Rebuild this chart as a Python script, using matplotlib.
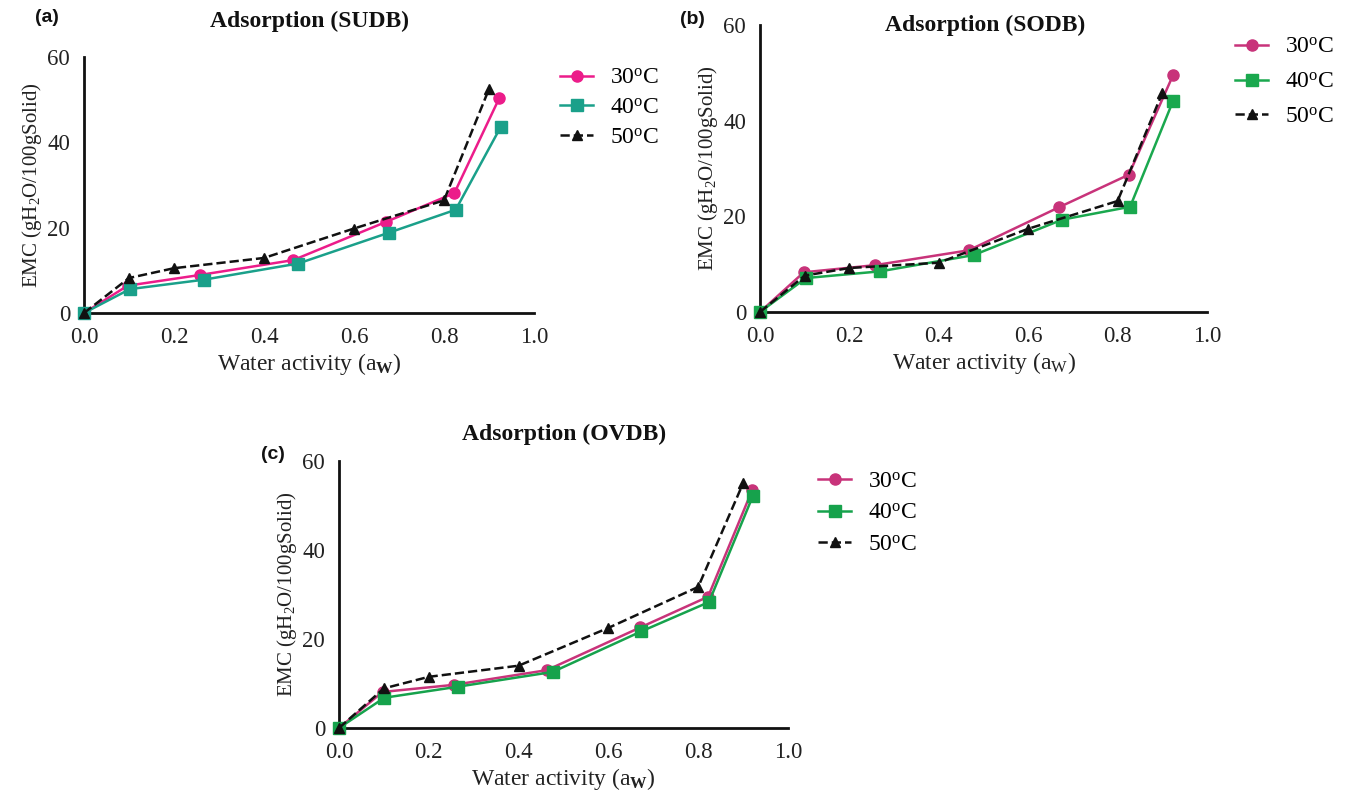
import matplotlib
matplotlib.use("Agg")
import matplotlib.pyplot as plt

plt.rcParams['font.family'] = ['Liberation Serif', 'DejaVu Serif']
plt.rcParams['mathtext.fontset'] = 'custom'
plt.rcParams['mathtext.rm'] = 'Liberation Serif'
plt.rcParams['mathtext.it'] = 'Liberation Serif:italic'
plt.rcParams['mathtext.bf'] = 'Liberation Serif:bold'

# Water activity (aw) and EMC values for each sample and temperature
temps = ['30', '40', '50']

sudb_aw_30 = [0.0, 0.097, 0.257, 0.465, 0.670, 0.823, 0.923]
sudb_emc_30 = [0.0, 6.4, 8.9, 12.4, 21.3, 28.1, 50.4]
sudb_aw_40 = [0.0, 0.102, 0.266, 0.476, 0.677, 0.826, 0.926]
sudb_emc_40 = [0.0, 5.6, 7.8, 11.6, 18.8, 24.2, 43.6]
sudb_aw_50 = [0.0, 0.1, 0.2, 0.4, 0.6, 0.8, 0.9]
sudb_emc_50 = [0.0, 8.2, 10.5, 12.9, 19.8, 26.4, 52.5]

sodb_aw_30 = [0.0, 0.098, 0.258, 0.467, 0.669, 0.825, 0.924]
sodb_emc_30 = [0.0, 8.3, 9.8, 12.9, 21.9, 28.7, 49.5]
sodb_aw_40 = [0.0, 0.103, 0.269, 0.478, 0.676, 0.828, 0.924]
sodb_emc_40 = [0.0, 7.1, 8.5, 11.9, 19.3, 22.0, 44.1]
sodb_aw_50 = [0.0, 0.1, 0.2, 0.4, 0.6, 0.8, 0.9]
sodb_emc_50 = [0.0, 7.6, 9.2, 10.3, 17.4, 23.2, 45.8]

ovdb_aw_30 = [0.0, 0.097, 0.256, 0.463, 0.671, 0.822, 0.920]
ovdb_emc_30 = [0.0, 8.1, 9.7, 13.0, 22.6, 29.5, 53.4]
ovdb_aw_40 = [0.0, 0.101, 0.266, 0.476, 0.673, 0.824, 0.922]
ovdb_emc_40 = [0.0, 6.8, 9.3, 12.6, 21.7, 28.3, 52.2]
ovdb_aw_50 = [0.0, 0.1, 0.2, 0.4, 0.6, 0.8, 0.9]
ovdb_emc_50 = [0.0, 8.9, 11.5, 14.0, 22.5, 31.7, 55.0]

x_ticks = [0.0, 0.2, 0.4, 0.6, 0.8, 1.0]
y_ticks = [0, 20, 40, 60]

W, H = 1354, 797


def fx(px):
    return px / W


def fy(py):
    return 1 - py / H


panels = [
    dict(letter='(a)', title='Adsorption (SUDB)',
         series=[(sudb_aw_30, sudb_emc_30), (sudb_aw_40, sudb_emc_40), (sudb_aw_50, sudb_emc_50)],
         colors=['#EC1C8A', '#1AA08A', '#111111'],
         box=(84, 57, 534, 313),
         xlabel=r'Water activity (a$_{\mathbf{W}}$)',
         title_xy=(309, 21), letter_xy=(35, 9),
         legend_xy=(560, 108), legend_sp=0.35),
    dict(letter='(b)', title='Adsorption (SODB)',
         series=[(sodb_aw_30, sodb_emc_30), (sodb_aw_40, sodb_emc_40), (sodb_aw_50, sodb_emc_50)],
         colors=['#C8337A', '#1AA84E', '#111111'],
         box=(760, 25, 1207, 312),
         xlabel=r'Water activity (a$_{\mathrm{W}}$)',
         title_xy=(985, 25), letter_xy=(680, 11),
         legend_xy=(1235, 82), legend_sp=0.56),
    dict(letter='(c)', title='Adsorption (OVDB)',
         series=[(ovdb_aw_30, ovdb_emc_30), (ovdb_aw_40, ovdb_emc_40), (ovdb_aw_50, ovdb_emc_50)],
         colors=['#C8337A', '#16A24C', '#111111'],
         box=(339, 461, 788, 728),
         xlabel=r'Water activity (a$_{\mathbf{W}}$)',
         title_xy=(564, 434), letter_xy=(261, 446),
         legend_xy=(818, 513), legend_sp=0.42),
]

markers = ['o', 's', '^']
styles = ['-', '-', '--']

fig = plt.figure(figsize=(W / 100, H / 100), dpi=100)

for p in panels:
    x0, y0, x1, y1 = p['box']
    ax = fig.add_axes([fx(x0), fy(y1), (x1 - x0) / W, (y1 - y0) / H])
    handles = []
    for (aw, emc), col, mk, ls, t in zip(p['series'], p['colors'], markers, styles, temps):
        h, = ax.plot(aw, emc, color=col, marker=mk, linestyle=ls, linewidth=1.8,
                     markersize=8 if mk != '^' else 7.5, clip_on=False, zorder=3,
                     label=t + r'$^{\mathrm{o}}$C')
        handles.append(h)
    ax.set_xlim(0, 1.0)
    ax.set_ylim(0, 60)
    ax.set_xticks(x_ticks)
    ax.set_xticklabels([f'{v:.1f}' for v in x_ticks])
    ax.set_yticks(y_ticks)
    for s in ['top', 'right']:
        ax.spines[s].set_visible(False)
    for s in ['left', 'bottom']:
        ax.spines[s].set_linewidth(2.0)
        ax.spines[s].set_color('#111111')
    ax.tick_params(length=0, labelsize=16.5, pad=10, colors='#222222')
    ax.set_xlabel(p['xlabel'], fontsize=17, labelpad=2, color='#222222')
    ax.set_ylabel(r'EMC (gH$_2$O/100gSolid)', fontsize=15, labelpad=2, color='#222222')
    fig.text(fx(p['title_xy'][0]), fy(p['title_xy'][1]), p['title'], fontsize=17,
             fontweight='bold', ha='center', va='center', color='#111111')
    fig.text(fx(p['letter_xy'][0]), fy(p['letter_xy'][1]), p['letter'], fontsize=14,
             fontweight='bold', family='Liberation Sans', ha='left', va='top',
             color='#111111')
    fig.legend(handles=handles, loc='center left',
               bbox_to_anchor=(fx(p['legend_xy'][0]), fy(p['legend_xy'][1])),
               frameon=False, fontsize=17, handlelength=1.4, handletextpad=0.7,
               labelspacing=p['legend_sp'], borderpad=0, borderaxespad=0)

fig.savefig('out.png', dpi=100, facecolor='white')
